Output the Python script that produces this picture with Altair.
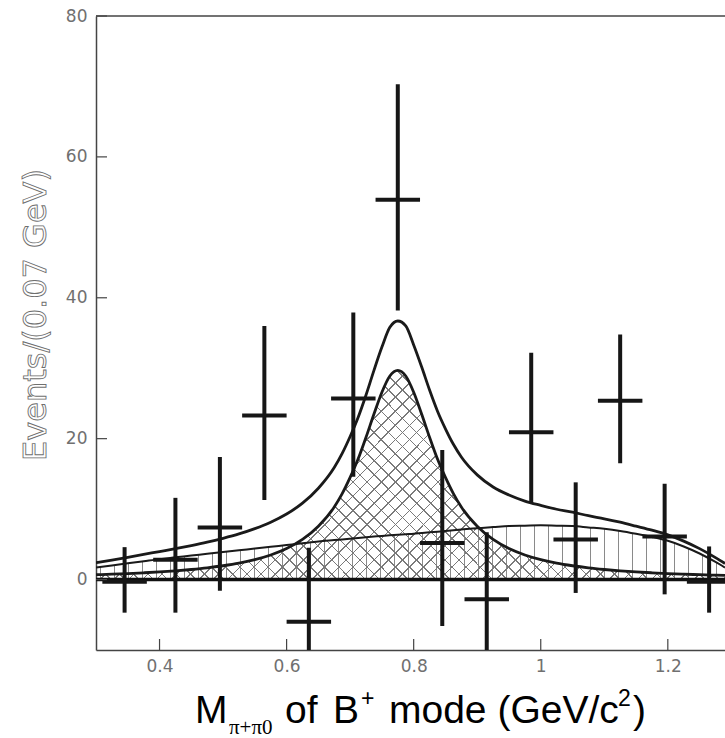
import altair as alt
import pandas as pd

# ---------------- data ----------------
mass = [0.345, 0.425, 0.495, 0.565, 0.635, 0.705, 0.775, 0.845, 0.915, 0.985, 1.055, 1.125, 1.195, 1.265]
events = [-0.3, 2.8, 7.4, 23.3, -6.0, 25.7, 53.9, 5.2, -2.8, 20.9, 5.7, 25.4, 6.1, -0.3]
err_hi = [4.6, 11.6, 17.4, 36.0, 4.5, 37.9, 70.3, 18.4, 6.7, 32.2, 13.8, 34.8, 13.6, 4.7]
err_lo = [-4.7, -4.7, -1.6, 11.3, -15.0, 14.6, 38.2, -6.6, -15.0, 10.9, -1.9, 16.5, -2.1, -4.7]
bin_half = 0.035

curve_x = [0.300, 0.325, 0.350, 0.375, 0.400, 0.425, 0.450, 0.475, 0.500, 0.525,
           0.550, 0.575, 0.600, 0.625, 0.650, 0.675, 0.6875, 0.700, 0.7125, 0.725,
           0.7375, 0.750, 0.7625, 0.775, 0.7875, 0.800, 0.8125, 0.825, 0.8375, 0.850,
           0.8625, 0.875, 0.900, 0.925, 0.950, 0.975, 1.000, 1.025, 1.050, 1.075,
           1.100, 1.125, 1.150, 1.175, 1.200, 1.225, 1.250, 1.275, 1.290]
signal = [0.69, 0.76, 0.85, 0.96, 1.08, 1.24, 1.43, 1.66, 1.96, 2.33,
          2.83, 3.49, 4.40, 5.69, 7.56, 10.3, 12.2, 14.5, 17.1, 20.2,
          23.5, 26.6, 28.9, 29.7, 28.9, 26.6, 23.5, 20.2, 17.1, 14.5,
          12.2, 10.3, 7.56, 5.69, 4.40, 3.49, 2.83, 2.33, 1.96, 1.66,
          1.43, 1.24, 1.08, 0.96, 0.85, 0.76, 0.69, 0.62, 0.58]
background = [1.7, 2.0, 2.3, 2.6, 2.9, 3.15, 3.4, 3.65, 3.9, 4.15,
              4.4, 4.65, 4.9, 5.15, 5.4, 5.6, 5.7, 5.8, 5.9, 6.0,
              6.1, 6.2, 6.28, 6.35, 6.43, 6.5, 6.6, 6.7, 6.8, 6.9,
              7.0, 7.1, 7.3, 7.45, 7.6, 7.65, 7.7, 7.65, 7.6, 7.4,
              7.2, 6.9, 6.5, 6.05, 5.5, 4.7, 3.7, 2.5, 1.7]
total = [2.39, 2.76, 3.15, 3.56, 3.98, 4.39, 4.83, 5.31, 5.86, 6.48,
         7.23, 8.14, 9.30, 10.84, 12.96, 15.9, 17.9, 20.3, 23.0, 26.2,
         29.7, 33.0, 35.8, 36.7, 36.0, 33.3, 30.2, 26.9, 23.9, 21.4,
         19.2, 17.4, 14.86, 13.14, 12.0, 11.14, 10.53, 9.98, 9.56, 9.06,
         8.63, 8.14, 7.58, 7.01, 6.35, 5.46, 4.39, 3.12, 2.28]

x_tick_values = [0.4, 0.6, 0.8, 1.0, 1.2]
y_tick_values = [0, 20, 40, 60, 80]

y_title = "Events/(0.07 GeV)"
x_title_parts = ["M", "π+π0", "of", "B", "+", "mode (GeV/c", "2", ")"]

# ---------------- tables ----------------
pts = pd.DataFrame({"m": mass, "ev": events, "hi": err_hi, "lo": err_lo})
curves = pd.DataFrame({"m": curve_x, "sig": signal, "bkg": background, "tot": total})
xt = pd.DataFrame({"t": x_tick_values})
yt = pd.DataFrame({"t": y_tick_values})

W, H = 629, 634
xs = alt.Scale(domain=[0.3, 1.29], nice=False, zero=False)
ys = alt.Scale(domain=[-10, 80], nice=False, zero=False)

xaxis = alt.Axis(values=x_tick_values, format="~g", title=None, ticks=False, tickSize=0,
                 grid=False, domainColor="#444", domainWidth=1.5, labelFont="DejaVu Sans",
                 labelFontSize=17, labelColor="#707070", labelPadding=8)
yaxis = alt.Axis(values=y_tick_values, title=None, ticks=False, tickSize=0, grid=False,
                 domainColor="#444", domainWidth=1.5, labelFont="DejaVu Sans",
                 labelFontSize=17, labelColor="#707070", labelPadding=9)


def X(f):
    return alt.X(f, type="quantitative", scale=xs, axis=xaxis)


def Y(f):
    return alt.Y(f, type="quantitative", scale=ys, axis=yaxis)


CLEAR = "rgba(255,255,255,0)"


def stripes(step, width, color, start=0.0, end=1.0):
    stops = [alt.GradientStop(color=CLEAR, offset=0)]
    o = start
    while o + width <= end:
        stops += [alt.GradientStop(color=CLEAR, offset=round(o, 5)),
                  alt.GradientStop(color=color, offset=round(o, 5)),
                  alt.GradientStop(color=color, offset=round(o + width, 5)),
                  alt.GradientStop(color=CLEAR, offset=round(o + width, 5))]
        o += step
    stops.append(alt.GradientStop(color=CLEAR, offset=1))
    return stops


vert_fill = alt.LinearGradient(gradient="linear", x1=0, y1=0, x2=1, y2=0,
                               stops=stripes(14 / W, 1.3 / W, "#8a8a8a", start=4 / W))
diag_a = alt.LinearGradient(gradient="linear", x1=0, y1=0, x2=1.25, y2=0.415,
                            stops=stripes(0.0162, 0.0018, "#7a7a7a"))
diag_b = alt.LinearGradient(gradient="linear", x1=0, y1=1, x2=1.25, y2=0.585,
                            stops=stripes(0.0162, 0.0018, "#7a7a7a"))

base_c = alt.Chart(curves)
bkg_area = base_c.mark_area(fill=vert_fill, clip=True, interpolate="monotone").encode(
    x=X("m"), y=Y("bkg"), y2=alt.datum(0))
sig_area_a = base_c.mark_area(fill=diag_a, clip=True, interpolate="monotone").encode(
    x=X("m"), y=Y("sig"), y2=alt.datum(0))
sig_area_b = base_c.mark_area(fill=diag_b, clip=True, interpolate="monotone").encode(
    x=X("m"), y=Y("sig"), y2=alt.datum(0))

zero_line = alt.Chart(yt).transform_filter("datum.t == 0").mark_rule(
    color="#111", strokeWidth=3.5).encode(y=Y("t"))

tot_line = base_c.mark_line(color="#1a1a1a", strokeWidth=2.8, interpolate="monotone", clip=True).encode(
    x=X("m"), y=Y("tot"))
sig_line = base_c.mark_line(color="#1a1a1a", strokeWidth=2.8, interpolate="monotone", clip=True).encode(
    x=X("m"), y=Y("sig"))
bkg_line = base_c.mark_line(color="#1a1a1a", strokeWidth=2.0, interpolate="monotone", clip=True).encode(
    x=X("m"), y=Y("bkg"))

base_p = alt.Chart(pts).transform_calculate(m_lo=f"datum.m - {bin_half}", m_hi=f"datum.m + {bin_half}")
vbars = base_p.mark_rule(color="#161616", strokeWidth=4, clip=True).encode(
    x=X("m"), y=Y("lo"), y2=alt.Y2("hi"))
hbars = base_p.mark_rule(color="#161616", strokeWidth=4, clip=True).encode(
    x=X("m_lo"), x2=alt.X2("m_hi"), y=Y("ev"))

x_ticks = alt.Chart(xt).mark_rule(color="#444", strokeWidth=1.2).encode(
    x=X("t"), y=alt.value(H), y2=alt.value(H - 11))
y_ticks = alt.Chart(yt).mark_rule(color="#444", strokeWidth=1.2).encode(
    y=Y("t"), x=alt.value(0), x2=alt.value(11))
top_border = alt.Chart(yt).transform_filter("datum.t == 80").mark_rule(
    color="#444", strokeWidth=1.5).encode(y=Y("t"))

# ---------------- titles as text ----------------
ytitle = alt.Chart(pd.DataFrame({"s": [y_title]})).mark_text(
    angle=270, align="center", baseline="middle", font="DejaVu Sans", fontSize=32,
    fill="#ffffff", stroke="#6f6f6f", strokeWidth=0.9).encode(
    text="s:N", x=alt.value(36 - 96), y=alt.value(315 - 16))

parts_x = [195, 229, 285, 333, 361, 389, 618, 633]
parts_y = [723, 734, 723, 723, 706, 723, 706, 723]
parts_size = [39, 21, 39, 39, 23, 39, 23, 39]
parts_font = ["Liberation Sans", "Liberation Serif", "Liberation Sans", "Liberation Sans",
              "Liberation Sans", "Liberation Sans", "Liberation Sans", "Liberation Sans"]
xt_layers = []
for txt, px, py, fs, fn in zip(x_title_parts, parts_x, parts_y, parts_size, parts_font):
    xt_layers.append(alt.Chart(pd.DataFrame({"s": [txt]})).mark_text(
        align="left", baseline="alphabetic", font=fn, fontSize=fs, color="#000").encode(
        text="s:N", x=alt.value(px - 96), y=alt.value(py - 16)))

chart = alt.layer(
    bkg_area, sig_area_a, sig_area_b, zero_line, tot_line, sig_line, bkg_line,
    vbars, hbars, x_ticks, y_ticks, top_border, ytitle, *xt_layers
).properties(
    width=W, height=H,
    autosize=alt.AutoSizeParams(type="none"),
    padding={"left": 96, "top": 16, "right": 0, "bottom": 88},
    background="white",
).configure_view(stroke=None)

chart.save("out.html", embed_options={"renderer": "svg", "actions": False})
